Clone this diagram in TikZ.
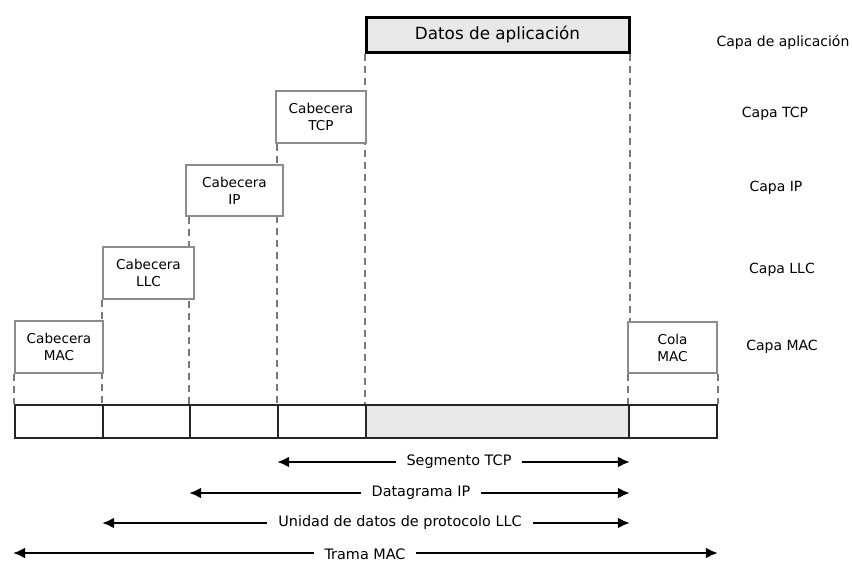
\documentclass[tikz,border=0pt]{standalone}
\usepackage{fontspec}
\setmainfont{DejaVu Sans}
\usetikzlibrary{arrows.meta}
\definecolor{boxgray}{HTML}{8C8C8C}
\definecolor{dashgray}{HTML}{7A7A7A}
\definecolor{datafill}{HTML}{E8E8E8}
\begin{document}
\begin{tikzpicture}[x=1pt,y=-1pt,
  hdr/.style={draw=boxgray,line width=2pt,fill=white,align=center,inner sep=0pt,
    font=\fontsize{13.6}{17}\selectfont},
  cell/.style={draw=black!85,line width=1.8pt,minimum height=33pt,inner sep=0pt},
  guide/.style={draw=dashgray,line width=1.3pt,dash pattern=on 7pt off 5pt},
  layer/.style={font=\fontsize{14}{16}\selectfont},
  span/.style={line width=2.8pt,{Latex[length=12pt,width=11pt]}-{Latex[length=12pt,width=11pt]}},
  spanlabel/.style={fill=white,inner xsep=11pt,inner ysep=2pt,font=\fontsize{14.4}{16}\selectfont}]
\useasboundingbox (0,0) rectangle (852,563);

% frame cells
\node[cell,minimum width=88pt]  (c1) at (59,421.5) {};
\node[cell,minimum width=87pt]  (c2) at (146.5,421.5) {};
\node[cell,minimum width=88pt]  (c3) at (234,421.5) {};
\node[cell,minimum width=88pt]  (c4) at (322,421.5) {};
\node[cell,minimum width=263pt,fill=datafill] (c5) at (497.5,421.5) {};
\node[cell,minimum width=88pt]  (c6) at (673,421.5) {};

% header box positions
\path (59,347)    coordinate (pmac)
      (148.5,273) coordinate (pllc)
      (234.5,190.5) coordinate (pip)
      (321,117)   coordinate (ptcp)
      (672.5,347.5) coordinate (pcola);

\node[draw=black,line width=3pt,fill=datafill,minimum width=263pt,minimum height=35pt,
      inner sep=0pt,font=\fontsize{16.8}{19}\selectfont] (data) at (497.5,34.5) {Datos de aplicación};

% outlines of the header boxes, used to end the guides
\node[hdr,draw=none,fill=none,minimum width=88pt,minimum height=52pt] (gmac) at (pmac) {};
\node[hdr,draw=none,fill=none,minimum width=91pt,minimum height=52pt] (gllc) at (pllc) {};
\node[hdr,draw=none,fill=none,minimum width=97pt,minimum height=51pt] (gip) at (pip) {};
\node[hdr,draw=none,fill=none,minimum width=90pt,minimum height=52pt] (gtcp) at (ptcp) {};
\node[hdr,draw=none,fill=none,minimum width=89pt,minimum height=51pt] (gcola) at (pcola) {};

% dashed guides
\draw[guide] (c1.north west |- gmac.south) -- (c1.north west);
\draw[guide] (c2.north west |- gllc.south) -- (c2.north west);
\draw[guide] (c3.north west |- gip.south) -- (c3.north west);
\draw[guide] (c4.north west |- gtcp.south) -- (c4.north west);
\draw[guide] (c5.north west |- data.south) -- (c5.north west);
\draw[guide] (c5.north east |- data.south) -- (c5.north east |- gcola.north);
\draw[guide] (c6.north west |- gcola.south) -- (c6.north west);
\draw[guide] (c6.north east |- gcola.south) -- (c6.north east);

% header boxes
\node[hdr,minimum width=88pt,minimum height=52pt] (mac) at (pmac) {Cabecera\\MAC};
\node[hdr,minimum width=91pt,minimum height=52pt] (llc) at (pllc) {Cabecera\\LLC};
\node[hdr,minimum width=97pt,minimum height=51pt] (ip) at (pip) {Cabecera\\IP};
\node[hdr,minimum width=90pt,minimum height=52pt] (tcp) at (ptcp) {Cabecera\\TCP};
\node[hdr,minimum width=89pt,minimum height=51pt] (cola) at (pcola) {Cola\\MAC};

% layer names
\node[layer] (lapp) at (783,42)  {Capa de aplicación};
\node[layer] (ltcp) at (775,114) {Capa TCP};
\node[layer] (lip)  at (776,188) {Capa IP};
\node[layer] (lllc) at (782,270) {Capa LLC};
\node[layer] (lmac) at (782,347) {Capa MAC};

% extents of the protocol data units
\coordinate (s1) at (c4.south west |- 0,462);
\coordinate (s2) at (c5.south east |- 0,462);
\draw[span] (s1) -- (s2);
\node[spanlabel] (seg) at (459,462) {Segmento TCP};

\coordinate (d1) at (c3.south west |- 0,493);
\coordinate (d2) at (c5.south east |- 0,493);
\draw[span] (d1) -- (d2);
\node[spanlabel] (dgr) at (421,493) {Datagrama IP};

\coordinate (u1) at (c2.south west |- 0,523);
\coordinate (u2) at (c5.south east |- 0,523);
\draw[span] (u1) -- (u2);
\node[spanlabel] (pdu) at (400,523) {Unidad de datos de protocolo LLC};

\coordinate (t1) at (13,553);
\coordinate (t2) at (c6.south east |- 0,553);
\draw[span] (t1) -- (t2);
\node[spanlabel,inner ysep=0pt] (trm) at (365,554) {Trama MAC};
\end{tikzpicture}
\end{document}
